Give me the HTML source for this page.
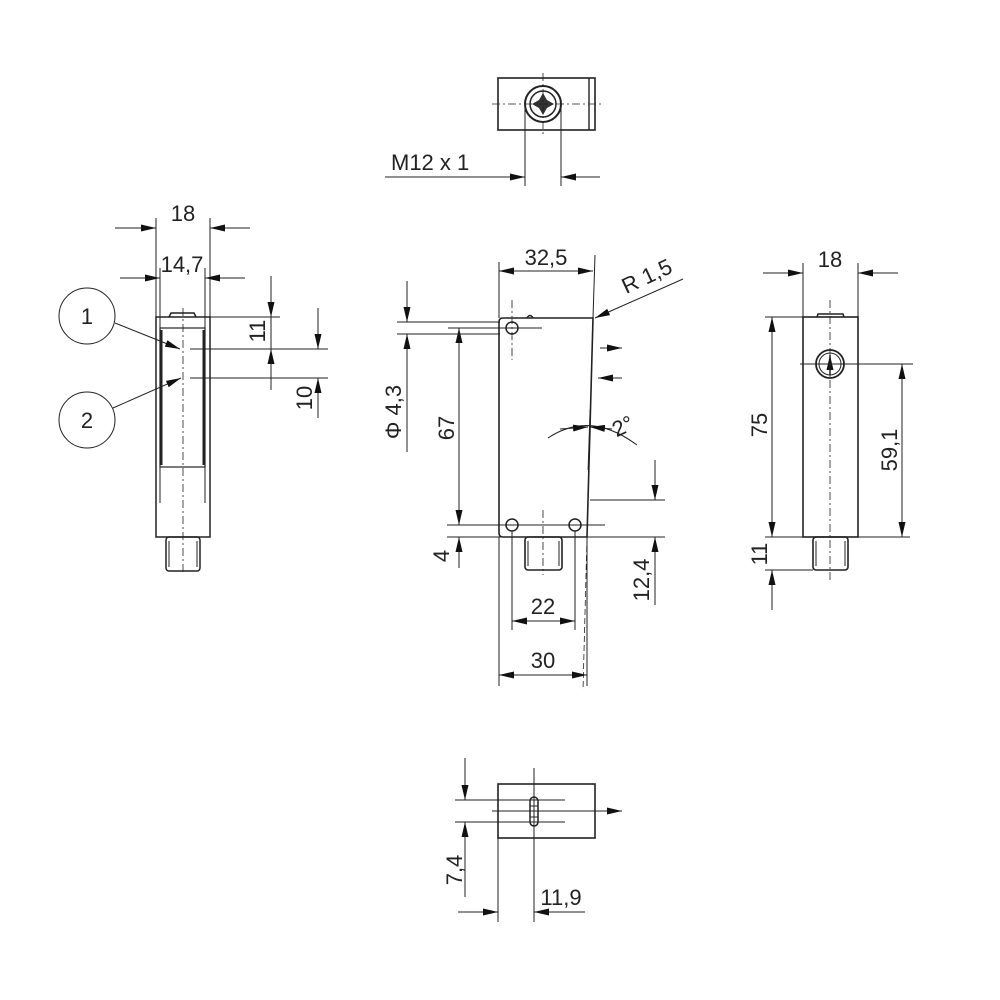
<!DOCTYPE html>
<html><head><meta charset="utf-8"><style>
html,body{margin:0;padding:0;background:#fff}
svg{display:block}
text{font-family:"Liberation Sans Narrow","Liberation Sans",sans-serif;font-size:22px;fill:#222}
</style></head><body>
<svg width="1000" height="1000" viewBox="0 0 1000 1000" xmlns="http://www.w3.org/2000/svg">
<defs>
<marker id="a" markerWidth="15" markerHeight="7" refX="15" refY="3.5" orient="auto" markerUnits="userSpaceOnUse"><path d="M0,0 L15,3.5 L0,7 z" fill="#111"/></marker>
</defs>
<g stroke="#222" stroke-width="1" fill="none">
<!-- TOP VIEW -->
<rect x="498" y="78" width="97" height="52" stroke-width="1.6"/>
<line x1="589" y1="78" x2="589" y2="130" stroke-width="1.4"/>
<circle cx="543" cy="104" r="18" stroke-width="2"/>
<circle cx="543" cy="104" r="13" stroke-width="1.5"/>
<path d="M543,93 l4,7 l7,4 l-7,4 l-4,7 l-4,-7 l-7,-4 l7,-4z" fill="#333" stroke="none"/>
<line x1="492" y1="104" x2="603" y2="104" stroke-dasharray="8,3,2,3" stroke-width="0.8"/>
<line x1="543" y1="73" x2="543" y2="136" stroke-dasharray="8,3,2,3" stroke-width="0.8"/>
<line x1="525" y1="104" x2="525" y2="186"/>
<line x1="561" y1="104" x2="561" y2="186"/>
<line x1="385" y1="177" x2="525" y2="177" marker-end="url(#a)"/>
<line x1="600" y1="177" x2="561" y2="177" marker-end="url(#a)"/>

<!-- LEFT VIEW -->
<rect x="156" y="317" width="54" height="220" stroke-width="1.5"/>
<rect x="160" y="328" width="45" height="139" stroke-width="1.2"/>
<line x1="161" y1="330" x2="161" y2="465" stroke-width="3"/>
<line x1="204" y1="330" x2="204" y2="465" stroke-width="3"/>
<line x1="160" y1="317" x2="160" y2="503"/>
<line x1="205" y1="317" x2="205" y2="503"/>
<path d="M169,317 L171,313 L194,313 L196,317" stroke-width="1.5"/>
<rect x="166" y="537" width="34" height="34" rx="3" stroke-width="1.5"/>
<line x1="169" y1="541" x2="169" y2="567"/><line x1="197" y1="541" x2="197" y2="567"/>
<line x1="183" y1="308" x2="183" y2="575" stroke-dasharray="8,3,2,3" stroke-width="0.8"/>
<line x1="156" y1="317" x2="156" y2="218"/><line x1="210" y1="317" x2="210" y2="218"/>
<line x1="115" y1="228" x2="156" y2="228" marker-end="url(#a)"/>
<line x1="250" y1="228" x2="210" y2="228" marker-end="url(#a)"/>
<line x1="160" y1="317" x2="160" y2="268"/><line x1="205" y1="317" x2="205" y2="268"/>
<line x1="120" y1="278" x2="160" y2="278" marker-end="url(#a)"/>
<line x1="245" y1="278" x2="205" y2="278" marker-end="url(#a)"/>
<line x1="210" y1="317" x2="280" y2="317"/>
<line x1="190" y1="349" x2="328" y2="349"/>
<line x1="190" y1="378" x2="328" y2="378"/>
<line x1="271" y1="276" x2="271" y2="317" marker-end="url(#a)"/>
<line x1="271" y1="390" x2="271" y2="349" marker-end="url(#a)"/>
<line x1="271" y1="317" x2="271" y2="349"/>
<line x1="318" y1="308" x2="318" y2="349" marker-end="url(#a)"/>
<line x1="318" y1="418" x2="318" y2="378" marker-end="url(#a)"/>
<circle cx="87" cy="316" r="28"/>
<circle cx="87" cy="420" r="28"/>
<line x1="115" y1="323" x2="180" y2="349" marker-end="url(#a)"/>
<line x1="113" y1="408" x2="181" y2="378" marker-end="url(#a)"/>

<!-- FRONT VIEW -->
<path d="M503,318 L593,318 L587,537 L503,537 Q499,537 499,533 L499,322 Q499,318 503,318 Z" stroke-width="1.6"/>
<path d="M527,318 q3,-5 6,0" stroke-width="1.5"/>
<circle cx="512" cy="328" r="6" stroke-width="1.5"/>
<circle cx="512" cy="525" r="6" stroke-width="1.5"/>
<circle cx="575" cy="525" r="6" stroke-width="1.5"/>
<rect x="525" y="537" width="37" height="33" rx="3" stroke-width="1.6"/>
<line x1="528" y1="541" x2="528" y2="566"/><line x1="559" y1="541" x2="559" y2="566"/>
<line x1="543" y1="510" x2="543" y2="575" stroke-dasharray="8,3,2,3" stroke-width="0.8"/>
<line x1="512" y1="300" x2="512" y2="360" stroke-dasharray="8,3,2,3" stroke-width="0.8"/>
<line x1="587" y1="537" x2="583" y2="690" stroke-dasharray="6,3" stroke-width="0.8"/>
<line x1="499" y1="318" x2="499" y2="262"/><line x1="593" y1="318" x2="595" y2="255"/>
<line x1="546" y1="271" x2="499" y2="271" marker-end="url(#a)"/>
<line x1="546" y1="271" x2="593" y2="271" marker-end="url(#a)"/>
<line x1="683" y1="279" x2="595" y2="318" marker-end="url(#a)"/>
<line x1="600" y1="348" x2="622" y2="348" marker-end="url(#a)"/>
<line x1="622" y1="378" x2="598" y2="378" marker-end="url(#a)"/>
<path d="M548,438 Q590,410 637,445"/>
<line x1="590" y1="410" x2="588" y2="470" stroke-width="0.8"/>
<line x1="560" y1="429" x2="588" y2="427" marker-end="url(#a)"/>
<line x1="612" y1="429" x2="590" y2="427" marker-end="url(#a)"/>
<line x1="590" y1="500" x2="665" y2="500"/>
<line x1="447" y1="537" x2="665" y2="537"/>
<line x1="655" y1="460" x2="655" y2="500" marker-end="url(#a)"/>
<line x1="655" y1="605" x2="655" y2="537" marker-end="url(#a)"/>
<line x1="447" y1="525" x2="605" y2="525"/>
<line x1="448" y1="328" x2="542" y2="328"/>
<line x1="459" y1="426" x2="459" y2="328" marker-end="url(#a)"/>
<line x1="459" y1="426" x2="459" y2="525" marker-end="url(#a)"/>
<line x1="459" y1="568" x2="459" y2="537" marker-end="url(#a)"/>
<line x1="397" y1="322" x2="500" y2="322"/>
<line x1="397" y1="334" x2="500" y2="334"/>
<line x1="407" y1="281" x2="407" y2="322" marker-end="url(#a)"/>
<line x1="407" y1="452" x2="407" y2="334" marker-end="url(#a)"/>
<line x1="512" y1="531" x2="512" y2="630"/><line x1="575" y1="531" x2="575" y2="630"/>
<line x1="543" y1="621" x2="512" y2="621" marker-end="url(#a)"/>
<line x1="543" y1="621" x2="575" y2="621" marker-end="url(#a)"/>
<line x1="499" y1="537" x2="499" y2="686"/><line x1="587" y1="537" x2="587" y2="686"/>
<line x1="543" y1="675" x2="499" y2="675" marker-end="url(#a)"/>
<line x1="543" y1="675" x2="587" y2="675" marker-end="url(#a)"/>

<!-- RIGHT VIEW -->
<rect x="803" y="317" width="55" height="220" stroke-width="1.6"/>
<path d="M817,317 L818,314 L843,314 L844,317" stroke-width="1.5"/>
<circle cx="830" cy="364" r="14" stroke-width="1.8"/>
<circle cx="830" cy="364" r="11"/>
<line x1="830" y1="375" x2="830" y2="355" stroke-width="1.5" marker-end="url(#a)"/>
<rect x="813" y="537" width="35" height="33" rx="3" stroke-width="1.6"/>
<line x1="816" y1="541" x2="816" y2="566"/><line x1="845" y1="541" x2="845" y2="566"/>
<line x1="830" y1="300" x2="830" y2="580" stroke-dasharray="8,3,2,3" stroke-width="0.8"/>
<line x1="800" y1="364" x2="913" y2="364"/>
<line x1="803" y1="317" x2="803" y2="263"/><line x1="858" y1="317" x2="858" y2="263"/>
<line x1="763" y1="273" x2="803" y2="273" marker-end="url(#a)"/>
<line x1="898" y1="273" x2="858" y2="273" marker-end="url(#a)"/>
<line x1="765" y1="317" x2="803" y2="317"/>
<line x1="765" y1="537" x2="910" y2="537"/>
<line x1="765" y1="570" x2="813" y2="570"/>
<line x1="772" y1="427" x2="772" y2="317" marker-end="url(#a)"/>
<line x1="772" y1="427" x2="772" y2="537" marker-end="url(#a)"/>
<line x1="772" y1="610" x2="772" y2="570" marker-end="url(#a)"/>
<line x1="902" y1="450" x2="902" y2="364" marker-end="url(#a)"/>
<line x1="902" y1="450" x2="902" y2="537" marker-end="url(#a)"/>

<!-- BOTTOM VIEW -->
<rect x="498" y="784" width="97" height="54" stroke-width="1.6"/>
<rect x="530" y="797" width="8" height="29" rx="4" stroke-width="1.5"/>
<line x1="530" y1="806" x2="538" y2="806"/><line x1="530" y1="817" x2="538" y2="817"/>
<line x1="492" y1="811" x2="622" y2="811" marker-end="url(#a)"/>
<line x1="455" y1="800" x2="565" y2="800"/>
<line x1="455" y1="822" x2="565" y2="822"/>
<line x1="534" y1="768" x2="534" y2="922"/>
<line x1="498" y1="838" x2="498" y2="922"/>
<line x1="465" y1="758" x2="465" y2="800" marker-end="url(#a)"/>
<line x1="465" y1="897" x2="465" y2="822" marker-end="url(#a)"/>
<line x1="458" y1="912" x2="498" y2="912" marker-end="url(#a)"/>
<line x1="585" y1="912" x2="534" y2="912" marker-end="url(#a)"/>
</g>
<g>
<text x="391" y="170">M12 x 1</text>
<text x="183" y="221" text-anchor="middle">18</text>
<text x="182" y="272" text-anchor="middle">14,7</text>
<text x="87" y="324" text-anchor="middle">1</text>
<text x="87" y="428" text-anchor="middle">2</text>
<text transform="translate(265,331) rotate(-90)" text-anchor="middle">11</text>
<text transform="translate(312,398) rotate(-90)" text-anchor="middle">10</text>
<text x="546" y="265" text-anchor="middle">32,5</text>
<text transform="translate(650,283) rotate(-25)" text-anchor="middle">R 1,5</text>
<text transform="translate(626,433) rotate(-25)" text-anchor="middle">2°</text>
<text transform="translate(401,412) rotate(-90)" text-anchor="middle">Φ 4,3</text>
<text transform="translate(454,428) rotate(-90)" text-anchor="middle">67</text>
<text transform="translate(449,556) rotate(-90)" text-anchor="middle">4</text>
<text transform="translate(649,580) rotate(-90)" text-anchor="middle">12,4</text>
<text x="543" y="614" text-anchor="middle">22</text>
<text x="543" y="668" text-anchor="middle">30</text>
<text x="830" y="267" text-anchor="middle">18</text>
<text transform="translate(767,425) rotate(-90)" text-anchor="middle">75</text>
<text transform="translate(897,450) rotate(-90)" text-anchor="middle">59,1</text>
<text transform="translate(767,554) rotate(-90)" text-anchor="middle">11</text>
<text transform="translate(462,870) rotate(-90)" text-anchor="middle">7,4</text>
<text x="561" y="905" text-anchor="middle">11,9</text>
</g>
</svg>
</body></html>
